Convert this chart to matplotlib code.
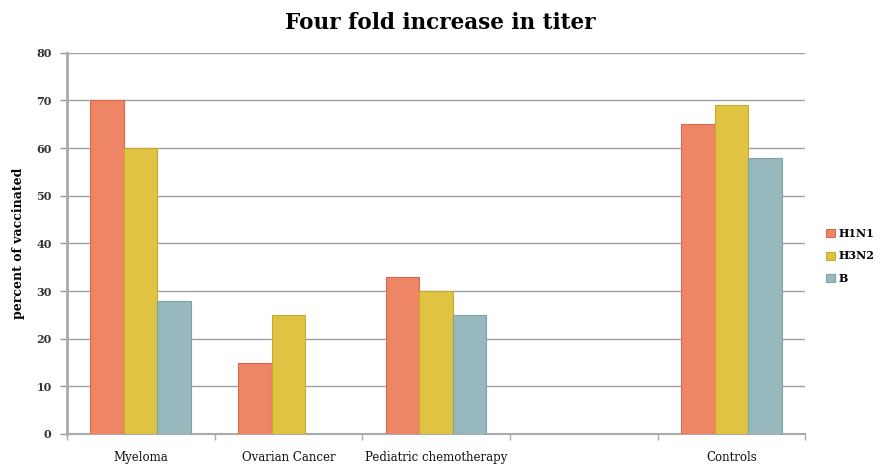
import matplotlib
matplotlib.use("Agg")
import matplotlib.pyplot as plt
import numpy as np

categories = ["Myeloma", "Ovarian Cancer", "Pediatric chemotherapy", "", "Controls"]
series_names = ["H1N1", "H3N2", "B"]
h1n1 = [70, 15, 33, np.nan, 65]
h3n2 = [60, 25, 30, np.nan, 69]
b_vals = [28, np.nan, 25, np.nan, 58]
colors = ["#EE8566", "#E0C343", "#97B8BD"]
edges = ["#D9694A", "#C9AA2A", "#7FA0A5"]
yticks = [0, 10, 20, 30, 40, 50, 60, 70, 80]

plt.rcParams['font.family'] = ['DejaVu Serif']

fig = plt.figure(figsize=(8.8, 4.66), dpi=100)
ax = fig.add_axes([0.076, 0.0687, 0.839, 0.818])

x = np.arange(len(categories))
w = 0.227
for i, (vals, c, ec, name) in enumerate(zip([h1n1, h3n2, b_vals], colors, edges, series_names)):
    ax.bar(x + (i - 1) * w, vals, width=w, color=c, edgecolor=ec, linewidth=0.8, label=name, zorder=3)

ax.set_xlim(-0.5, len(categories) - 0.5)
ax.set_ylim(0, 80)
ax.set_yticks(yticks)
ax.set_yticklabels([str(t) for t in yticks], fontsize=8, fontweight='bold', color='#333333')
ax.yaxis.grid(True, color='#a0a0a0', linewidth=1.0, zorder=0)
ax.set_axisbelow(True)

ax.set_xticks(x)
ax.set_xticklabels(categories, fontsize=8.5, color='#111111')
ax.tick_params(axis='x', length=0, pad=12)
ax.set_xticks(np.arange(len(categories) + 1) - 0.5, minor=True)
ax.tick_params(axis='x', which='minor', length=4, color='#aaaaaa', width=1)
ax.tick_params(axis='y', length=5, color='#999999', width=1, pad=6)

for s in ['top', 'right']:
    ax.spines[s].set_visible(False)
ax.spines['left'].set_color('#aaaaaa')
ax.spines['left'].set_linewidth(2)
ax.spines['bottom'].set_color('#aaaaaa')
ax.spines['bottom'].set_linewidth(1.5)

ax.set_ylabel("percent of vaccinated", fontsize=9, fontweight='bold', labelpad=8)
fig.suptitle("Four fold increase in titer", fontsize=15.5, fontweight='bold', y=0.975)

leg = ax.legend(loc='center left', bbox_to_anchor=(1.015, 0.467), frameon=False,
                prop={'size': 8, 'weight': 'bold'}, handlelength=0.75, handleheight=0.75,
                handletextpad=0.35, labelspacing=1.05)

fig.savefig("out.png", dpi=100)
